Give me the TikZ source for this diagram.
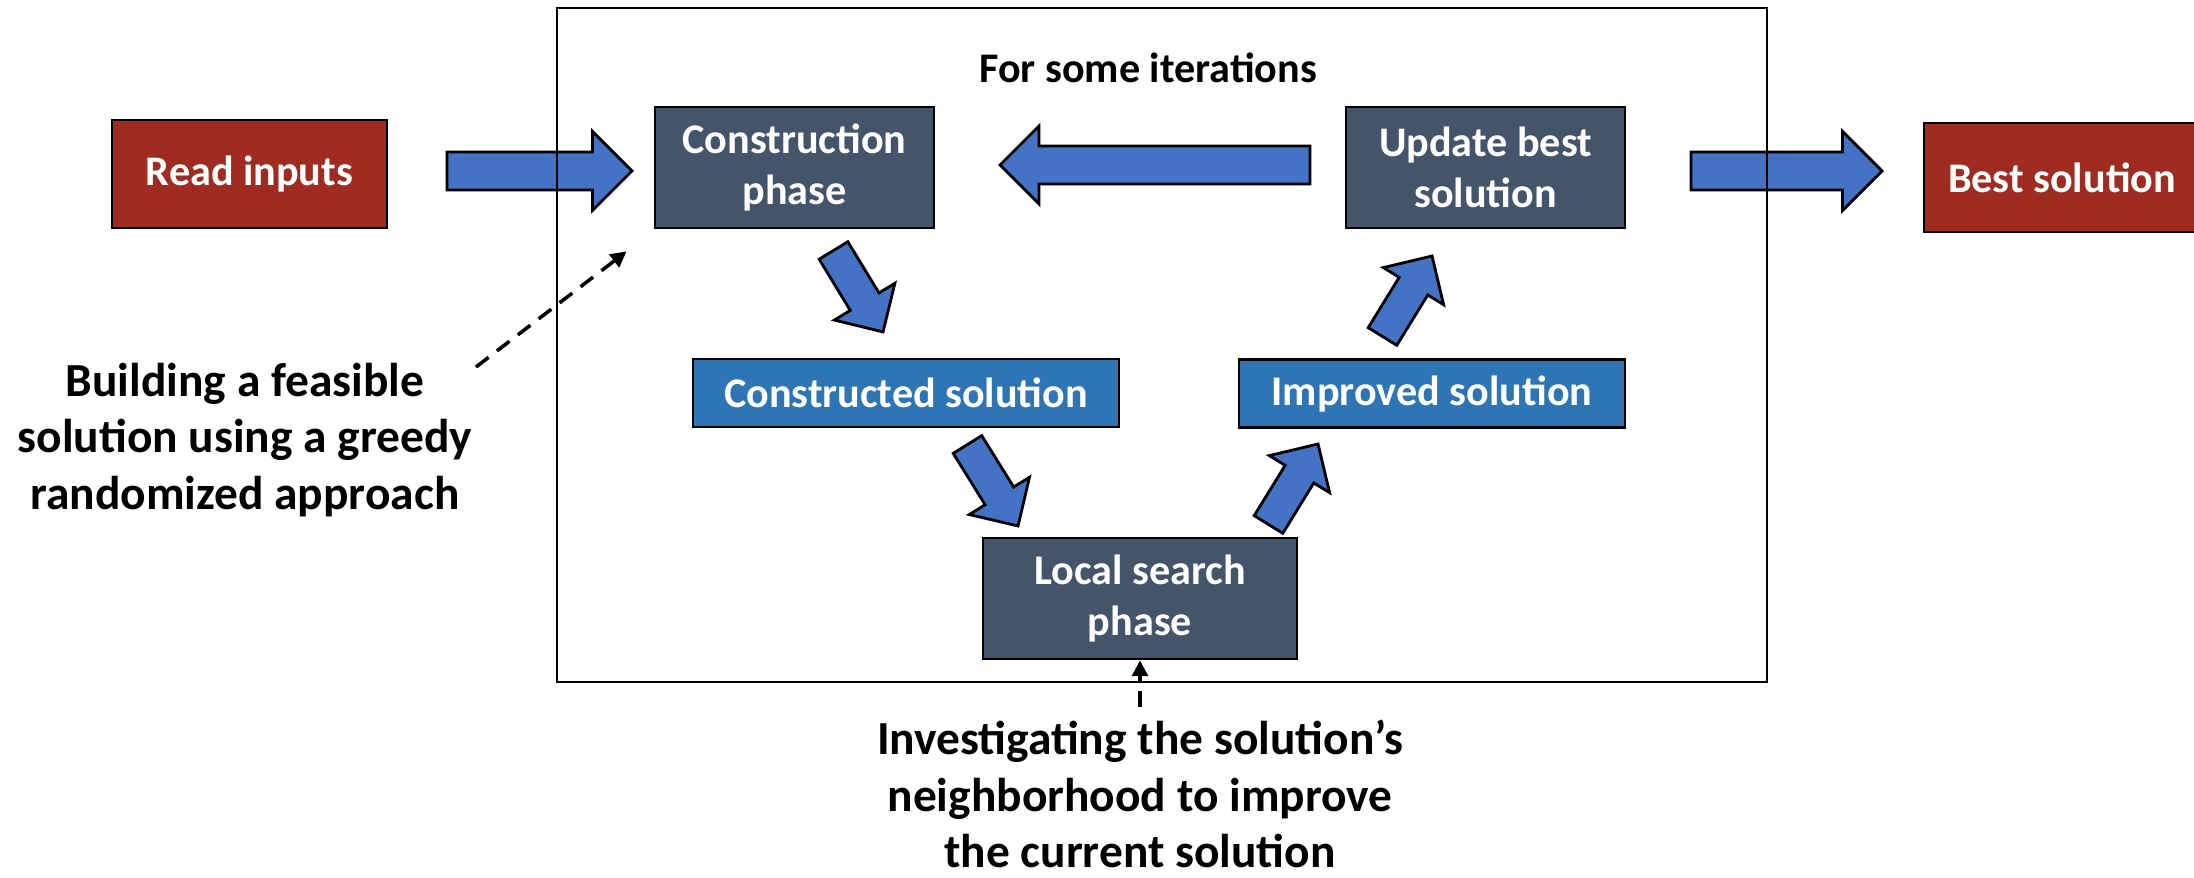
\documentclass[tikz,border=0pt]{standalone}
\usepackage{fontspec}
\setmainfont{Carlito}
\usetikzlibrary{arrows.meta, positioning, calc}
\definecolor{redbox}{RGB}{160,43,32}
\definecolor{slatebox}{RGB}{68,84,106}
\definecolor{solbox}{RGB}{46,117,182}
\definecolor{arrblue}{RGB}{68,114,196}

% block arrow: tail, angle, length, half shaft, half head
\newcommand{\blockarr}[5]{%
  \draw[blk, shift={(#1)}, rotate=#2]
    (0,-#4) -- ({#3-#5},-#4) -- ({#3-#5},-#5) -- (#3,0)
    -- ({#3-#5},#5) -- ({#3-#5},#4) -- (0,#4) -- cycle;}

\begin{document}
\begin{tikzpicture}[
  font=\bfseries\fontsize{12}{14.6}\selectfont,
  box/.style={draw=black, line width=0.8pt, text=white, align=center,
              inner sep=0pt},
  ioblock/.style={box, fill=redbox, minimum width=2.75cm,
                  minimum height=1.08cm},
  phase/.style={box, fill=slatebox, minimum width=2.79cm,
                minimum height=1.21cm},
  sol/.style={box, fill=solbox, minimum height=0.68cm},
  blk/.style={draw=black, line width=0.8pt, fill=arrblue},
  note/.style={font=\bfseries\fontsize{13.5}{16}\selectfont,
               align=center, inner sep=1pt},
  hint/.style={line width=1pt, dash pattern=on 4.5pt off 3pt,
               -{Triangle[length=4.5pt, width=4.5pt]}}
]
  \useasboundingbox (0,0) rectangle (21.94,8.78);
  \clip (0,0) rectangle (21.94,8.78);

  \node[ioblock] (readin) at (2.495,7.04) {Read inputs};
  \node[phase] (construct) at (7.945,7.105) {Construction\\phase};
  \node[phase] (update) at (14.855,7.105) {Update best\\solution};
  \node[ioblock, minimum width=2.76cm, minimum height=1.09cm]
    (best) at (20.62,7.005) {Best solution};
  \node[sol, minimum width=4.26cm] (built) at (9.06,4.85)
    {Constructed solution};
  \node[sol, minimum width=3.86cm] (improved) at (14.32,4.845)
    {Improved solution};
  \node[phase, minimum width=3.14cm] (local) at (11.40,2.795)
    {Local search\\phase};

  \node[anchor=base] (iter) at (11.48,7.95) {For some iterations};

  \blockarr{4.47,7.07}{0}{1.85}{0.19}{0.395}
  \blockarr{13.10,7.13}{180}{3.10}{0.19}{0.39}
  \blockarr{16.91,7.07}{0}{1.91}{0.19}{0.395}
  \blockarr{8.335,6.275}{-58.7}{0.953}{0.168}{0.354}
  \blockarr{9.675,4.335}{-58.2}{0.959}{0.168}{0.354}
  \blockarr{12.685,3.535}{58.4}{0.945}{0.168}{0.354}
  \blockarr{13.825,5.415}{58.4}{0.945}{0.168}{0.354}

  \draw[line width=0.8pt] (5.57,1.96) rectangle (17.67,8.70);

  \node[note] (build) at (2.45,4.38)
    {Building a feasible\\solution using a greedy\\randomized approach};
  \node[note] (neigh) at (11.40,0.84)
    {Investigating the solution’s\\neighborhood to improve\\the current solution};

  \coordinate (buildtail) at (4.76,5.11);
  \coordinate (buildtip) at ($(construct.south west)+(-0.27,-0.22)$);
  \draw[hint] (buildtail) -- (buildtip);
  \coordinate (neightail) at (11.40,1.71);
  \draw[hint] (neightail) -- (local.south);

\end{tikzpicture}
\end{document}
